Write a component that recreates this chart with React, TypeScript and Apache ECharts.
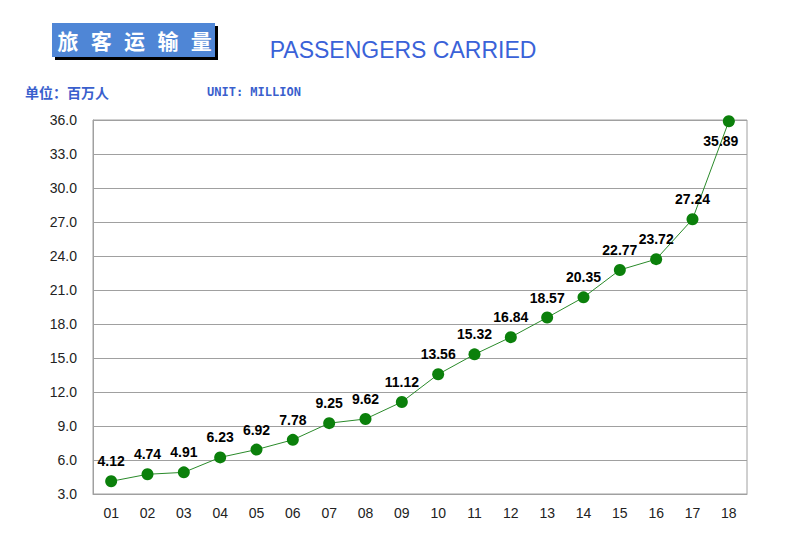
import React, { useEffect, useRef } from "react";
import * as echarts from "echarts";

const categories = ["01","02","03","04","05","06","07","08","09","10","11","12","13","14","15","16","17","18"];
const passengers = [4.12,4.74,4.91,6.23,6.92,7.78,9.25,9.62,11.12,13.56,15.32,16.84,18.57,20.35,22.77,23.72,27.24,35.89];
const titleCnChars = ["旅","客","运","输","量"];
const titleEn = "PASSENGERS CARRIED";
const unitCn = "单位：百万人";
const unitEn = "UNIT: MILLION";

export default function App() {
  const ref = useRef<HTMLDivElement>(null);
  useEffect(() => {
    if (!ref.current) return;
    const chart = echarts.init(ref.current, undefined, { renderer: "svg" });
    const last = passengers.length - 1;
    chart.setOption({
      animation: false,
      backgroundColor: "#ffffff",
      grid: { left: 93, right: 53, top: 120, bottom: 56, show: true, borderColor: "#a0a0a0", borderWidth: 1 },
      graphic: [
        { type: "rect", shape: { x: 55, y: 26, width: 163, height: 34 }, style: { fill: "#000000" } },
        { type: "rect", shape: { x: 52, y: 23, width: 163, height: 34 }, style: { fill: "#4f86d6" } },
        ...titleCnChars.map((c, i) => ({
          type: "text", x: 68 + i * 33.3, y: 40,
          style: { text: c, fill: "#ffffff", font: "bold 21px 'Noto Sans CJK SC'", textAlign: "center", textVerticalAlign: "middle" },
        })),
        { type: "text", x: 403, y: 50, style: { text: titleEn, fill: "#3a62d8", font: "23px Arial, 'Liberation Sans'", textAlign: "center", textVerticalAlign: "middle" } },
        { type: "text", x: 25, y: 92, style: { text: unitCn, fill: "#3a5fcd", font: "bold 14px 'Noto Sans CJK SC'", textVerticalAlign: "middle" } },
        { type: "text", x: 207, y: 92, style: { text: unitEn, fill: "#3a5fcd", font: "bold 12px 'DejaVu Sans Mono', monospace", textVerticalAlign: "middle" } },
      ],
      xAxis: {
        type: "category",
        data: categories,
        boundaryGap: true,
        axisLine: { lineStyle: { color: "#a0a0a0" } },
        axisTick: { inside: true, length: 4, lineStyle: { color: "#a0a0a0" } },
        axisLabel: { color: "#222", fontSize: 14, fontFamily: "Arial, 'Liberation Sans'", margin: 12 },
      },
      yAxis: {
        type: "value",
        min: 3,
        max: 36,
        interval: 3,
        axisLine: { show: true, lineStyle: { color: "#a0a0a0" } },
        axisTick: { show: false },
        splitLine: { lineStyle: { color: "#a0a0a0" } },
        axisLabel: { color: "#222", fontSize: 14, fontFamily: "Arial, 'Liberation Sans'", margin: 16, formatter: (v: number) => v.toFixed(1) },
      },
      series: [
        {
          type: "line",
          data: passengers.map((v, i) =>
            i === last
              ? { value: v, label: { position: "bottom", offset: [-8, 0] } }
              : v
          ),
          symbol: "circle",
          symbolSize: 12,
          itemStyle: { color: "#0b800b" },
          lineStyle: { color: "#2a8a2a", width: 1 },
          label: {
            show: true,
            position: "top",
            distance: 7,
            color: "#000",
            fontWeight: "bold",
            fontSize: 14,
            fontFamily: "Arial, 'Liberation Sans'",
            formatter: (p: any) => Number(p.value).toFixed(2),
          },
        },
      ],
    });
    return () => chart.dispose();
  }, []);
  return <div ref={ref} style={{ position: "fixed", left: 0, top: 0, width: 800, height: 550 }} />;
}
